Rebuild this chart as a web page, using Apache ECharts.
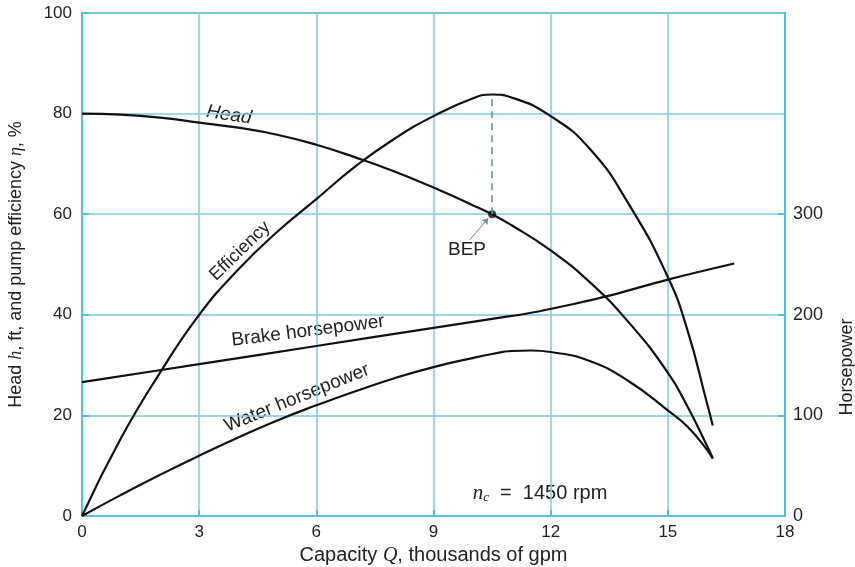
<!DOCTYPE html>
<html>
<head>
<meta charset="utf-8">
<script src="https://cdn.jsdelivr.net/npm/echarts@6/dist/echarts.min.js"></script>
<style>
  html, body { margin: 0; padding: 0; background: #ffffff; }
  #chart { width: 855px; height: 567px; }
</style>
</head>
<body>
<div id="chart"></div>
<script>
// capacity Q in thousands of gpm
var headQ = [0, 1, 2, 3, 4, 5, 6, 7, 8, 9, 10, 10.5, 11, 12, 13, 14, 15, 15.5, 16, 16.15]
var headFt = [80, 79.8, 79.2, 78.2, 77.2, 75.8, 73.8, 71.3, 68.5, 65.3, 61.8, 60, 57.8, 52.8, 46.5, 38.5, 28.5, 21.8, 14, 11.5]

var effQ = [0, 1, 2, 3, 4, 5, 6, 7, 8, 9, 10, 10.5, 11, 12, 13, 14, 15, 15.5, 16, 16.15]
var effPct = [0, 15.5, 28.5, 40, 49, 56.5, 63, 69.5, 75, 79.5, 83, 83.8, 83.2, 79.5, 73, 62, 47.5, 37, 22.5, 18]

var brakeQ = [0, 3, 6, 9, 10.5, 11.5, 12.5, 13.5, 15, 16.7]
var brakeHp = [133, 151, 169, 187, 196, 202, 210, 219, 235, 251]

var waterQ = [0, 1, 2, 3, 4, 5, 6, 7, 8, 9, 10, 10.5, 11, 11.5, 12, 13, 14, 15, 15.5, 16, 16.15]
var waterHp = [0, 21, 41, 60, 78, 95, 110, 124, 137, 148, 157, 161, 164, 164.5, 163, 154, 134, 105, 89, 66, 57]

var bep = [10.5, 60]
var bepEff = 83.8
var hpTicks = [0, 100, 200, 300]

function pairs (xs, ys) {
  return xs.map(function (x, i) { return [x, ys[i]] })
}

var cyan = '#4fc2e3'
var gridBlue = '#7cc8ea'
var font = 'Liberation Sans, Arial, sans-serif'

var myChart = echarts.init(document.getElementById('chart'))

var lineStyle = { color: '#111111', width: 2.2 }

myChart.setOption({
  animation: false,
  textStyle: { fontFamily: font },
  grid: {
    left: 82,
    right: 70,
    top: 13,
    bottom: 51,
    outerBoundsMode: 'none',
    show: true,
    borderColor: cyan,
    borderWidth: 2,
    backgroundColor: 'transparent'
  },
  xAxis: {
    type: 'value',
    min: 0,
    max: 18,
    interval: 3,
    name: 'Capacity {i|Q}, thousands of gpm',
    nameLocation: 'middle',
    nameGap: 24,
    nameTextStyle: {
      fontSize: 20,
      color: '#222',
      rich: { i: { fontStyle: 'italic', fontSize: 20, fontFamily: 'Liberation Serif, serif' } }
    },
    axisLine: { lineStyle: { color: cyan, width: 2 } },
    axisTick: { inside: true, length: 6, lineStyle: { color: cyan, width: 2 } },
    axisLabel: { fontSize: 17, color: '#222', margin: 8 },
    splitLine: { lineStyle: { color: gridBlue, width: 1.5 } }
  },
  yAxis: [
    {
      type: 'value',
      min: 0,
      max: 100,
      interval: 20,
      name: 'Head {i|h}, ft, and pump efficiency {i|η}, %',
      nameLocation: 'middle',
      nameGap: 57,
      nameTextStyle: {
        fontSize: 18,
        color: '#222',
        rich: { i: { fontStyle: 'italic', fontSize: 18, fontFamily: 'Liberation Serif, serif' } }
      },
      axisLine: { show: true, lineStyle: { color: cyan, width: 2 } },
      axisTick: { show: true, inside: true, length: 7, lineStyle: { color: cyan, width: 2 } },
      axisLabel: { fontSize: 17, color: '#222', margin: 10 },
      splitLine: { lineStyle: { color: gridBlue, width: 1.5 } }
    },
    {
      type: 'value',
      min: 0,
      max: 500,
      interval: 100,
      position: 'right',
      axisLine: { show: true, lineStyle: { color: cyan, width: 2 } },
      axisTick: { show: true, inside: true, length: 7, customValues: hpTicks, lineStyle: { color: cyan, width: 2 } },
      axisLabel: { fontSize: 18, color: '#222', margin: 8, customValues: hpTicks },
      splitLine: { show: false }
    }
  ],
  series: [
    {
      name: 'Head',
      type: 'line',
      yAxisIndex: 0,
      data: pairs(headQ, headFt),
      smooth: 0.5,
      showSymbol: false,
      lineStyle: lineStyle
    },
    {
      name: 'Efficiency',
      type: 'line',
      yAxisIndex: 0,
      data: pairs(effQ, effPct),
      smooth: 0.5,
      showSymbol: false,
      lineStyle: lineStyle,
      markLine: {
        silent: true,
        symbol: ['none', 'none'],
        label: { show: false },
        lineStyle: { color: '#5a8fb0', type: [7, 5], width: 1.5 },
        data: [[{ coord: bep }, { coord: [bep[0], bepEff] }]]
      }
    },
    {
      name: 'Brake horsepower',
      type: 'line',
      yAxisIndex: 1,
      data: pairs(brakeQ, brakeHp),
      smooth: 0.4,
      showSymbol: false,
      lineStyle: lineStyle
    },
    {
      name: 'Water horsepower',
      type: 'line',
      yAxisIndex: 1,
      data: pairs(waterQ, waterHp),
      smooth: 0.5,
      showSymbol: false,
      lineStyle: lineStyle
    },
    {
      name: 'BEP',
      type: 'scatter',
      yAxisIndex: 0,
      data: [bep],
      symbolSize: 8,
      itemStyle: { color: '#111' },
      markLine: {
        silent: true,
        symbol: ['none', 'arrow'],
        symbolSize: 6,
        label: { show: false },
        lineStyle: { color: '#6a8ca0', type: 'solid', width: 1 },
        data: [[{ coord: [9.93, 54.9] }, { coord: [10.4, 59.2] }]]
      }
    }
  ],
  graphic: [
    { type: 'text', x: 229, y: 115, rotation: -0.15,
      style: { text: 'Head', font: 'italic 19px Liberation Sans', fill: '#222', align: 'center', verticalAlign: 'middle' } },
    { type: 'text', x: 240, y: 251, rotation: 0.77,
      style: { text: 'Efficiency', font: '18px Liberation Sans', fill: '#222', align: 'center', verticalAlign: 'middle' } },
    { type: 'text', x: 308, y: 331, rotation: 0.125,
      style: { text: 'Brake horsepower', font: '19px Liberation Sans', fill: '#222', align: 'center', verticalAlign: 'middle' } },
    { type: 'text', x: 297, y: 398, rotation: 0.385,
      style: { text: 'Water horsepower', font: '19px Liberation Sans', fill: '#222', align: 'center', verticalAlign: 'middle' } },
    { type: 'text', x: 467, y: 250,
      style: { text: 'BEP', font: '19px Liberation Sans', fill: '#222', align: 'center', verticalAlign: 'middle' } },
    { type: 'text', x: 540, y: 493,
      style: {
        text: '{i|n}{s|c}  =  1450 rpm',
        font: '20px Liberation Sans',
        fill: '#222',
        align: 'center',
        verticalAlign: 'middle',
        rich: {
          i: { fontStyle: 'italic', fontSize: 21, fontFamily: 'Liberation Serif' },
          s: { fontStyle: 'italic', fontSize: 13, fontFamily: 'Liberation Serif', verticalAlign: 'bottom', padding: [9, 0, 0, 0] }
        }
      } },
    { type: 'text', x: 847, y: 367, rotation: Math.PI / 2,
      style: { text: 'Horsepower', font: '18px Liberation Sans', fill: '#222', align: 'center', verticalAlign: 'middle' } }
  ]
})
</script>
</body>
</html>
